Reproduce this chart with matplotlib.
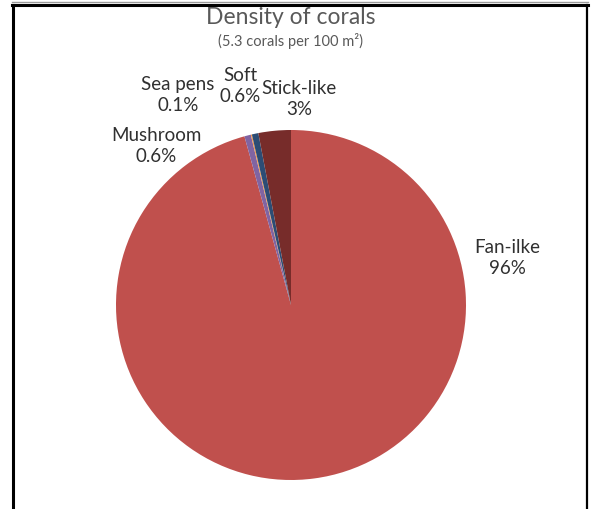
import matplotlib.pyplot as plt
from matplotlib.lines import Line2D

# data
names = ['Fan-ilke', 'Mushroom', 'Sea pens', 'Soft', 'Stick-like']
shares = [96, 0.6, 0.1, 0.6, 3]
pct_labels = ['96%', '0.6%', '0.1%', '0.6%', '3%']
colors = ['#C0504D', '#8064A2', '#F79646', '#2C4D75', '#772C2A']

plt.rcParams['font.family'] = ['Lato', 'DejaVu Sans']

W, H = 591, 509
fig = plt.figure(figsize=(W / 100, H / 100), dpi=100)

# pie centre and radius in pixels
cx, cy, r = 291, 305, 175
ax = fig.add_axes([(cx - r) / W, (H - cy - r) / H, 2 * r / W, 2 * r / H])
ax.pie(shares, colors=colors, startangle=90, counterclock=False,
       radius=1, wedgeprops={'linewidth': 0})
ax.set_xlim(-1, 1)
ax.set_ylim(-1, 1)
ax.set_aspect('equal')
ax.axis('off')

# label spots (pixel centres in the picture)
spots = [(507, 258), (156, 146), (178, 95), (240, 86), (299, 99)]
for name, pct, (px, py) in zip(names, pct_labels, spots):
    ax.text((px - cx) / r, (cy - py) / r, name + '\n' + pct, ha='center',
            va='center', fontsize=13.5, color='#303030', linespacing=1.3)

fig.text(cx / W, 1 - 17 / H, 'Density of corals', ha='center', va='center',
         fontsize=16.5, color='#595959')
fig.text(cx / W, 1 - 41 / H, '(5.3 corals per 100 m²)', ha='center',
         va='center', fontsize=10.5, color='#595959')

# frame (cut off at the bottom)
fig.add_artist(Line2D([12.5 / W, 12.5 / W], [0, 1 - 4.5 / H], color='black',
                      lw=2.2, transform=fig.transFigure))
fig.add_artist(Line2D([12 / W, 588 / W], [1 - 4.5 / H, 1 - 4.5 / H],
                      color='black', lw=2.2, transform=fig.transFigure))
fig.add_artist(Line2D([587 / W, 587 / W], [0, 1 - 4.5 / H], color='black',
                      lw=1.6, transform=fig.transFigure))
fig.add_artist(Line2D([12 / W, 588 / W], [1 - 1.5 / H, 1 - 1.5 / H],
                      color='#9a9a9a', lw=1.0, transform=fig.transFigure))

fig.savefig('out.png', dpi=100)
